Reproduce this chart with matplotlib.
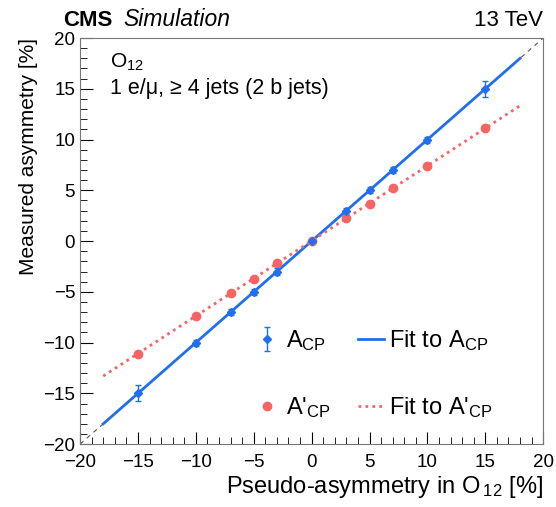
import numpy as np
import matplotlib.pyplot as plt
from matplotlib.ticker import MultipleLocator

plt.rcParams['font.family'] = ['Liberation Sans', 'DejaVu Sans']
plt.rcParams['mathtext.fontset'] = 'custom'
plt.rcParams['mathtext.rm'] = 'Liberation Sans'
plt.rcParams['mathtext.it'] = 'Liberation Sans:italic'

# injected pseudo-asymmetry
x_in = [-15, -10, -7, -5, -3, 0, 3, 5, 7, 10, 15]
# measured A_CP and A'_CP
a_cp = [-15.0, -10.0, -7.0, -5.0, -3.0, 0.0, 3.0, 5.0, 7.0, 10.0, 15.0]
a_cp_err = [0.8, 0.3, 0.3, 0.3, 0.3, 0.3, 0.3, 0.3, 0.3, 0.3, 0.8]
a_cp_prime = [-11.1, -7.4, -5.1, -3.7, -2.2, 0.0, 2.3, 3.7, 5.2, 7.4, 11.1]

blue = '#1f6ff0'
red = '#f86464'

fig = plt.figure(figsize=(5.56, 5.07), dpi=100)
ax = fig.add_axes([0.144, 0.124, 0.833, 0.801])

# diagonal
ax.plot([-20, 20], [-20, 20], ls=(0, (4, 4)), color='#555555', lw=0.8)

# fits
xf = np.array([-18, 18])
p1 = np.polyfit(x_in, a_cp, 1)
p2 = np.polyfit(x_in, a_cp_prime, 1)
fit1, = ax.plot(xf, np.polyval(p1, xf), color=blue, lw=2)
fit2, = ax.plot(xf, np.polyval(p2, xf), color=red, lw=2, ls=(0, (1, 1.5)))

pts1 = ax.errorbar(x_in, a_cp, yerr=a_cp_err, fmt='D', ms=4, color=blue, ecolor=blue,
                   elinewidth=1, capsize=2)
pts2, = ax.plot(x_in, a_cp_prime, 'o', ms=6, color=red, ls='none')

ax.set_xlim(-20, 20)
ax.set_ylim(-20, 20)
ax.xaxis.set_major_locator(MultipleLocator(5))
ax.xaxis.set_minor_locator(MultipleLocator(1))
ax.yaxis.set_major_locator(MultipleLocator(5))
ax.yaxis.set_minor_locator(MultipleLocator(1))
ax.tick_params(which='both', direction='in', labelsize=13.5, top=False, right=False)
ax.tick_params(which='major', length=9)
ax.tick_params(which='minor', length=5)
ax.tick_params(axis='x', pad=7)
for s in ax.spines.values():
    s.set_color('#777777')

ax.set_xlabel('Pseudo-asymmetry in O$\\,_{12}$ [%]', fontsize=17, loc='right', labelpad=2)
ax.set_ylabel('Measured asymmetry [%]', fontsize=15, loc='top')

fig.text(0.113, 0.948, 'CMS', fontsize=16, fontweight='bold')
fig.text(0.222, 0.948, 'Simulation', fontsize=16.5, style='italic')
fig.text(0.977, 0.948, '13 TeV', fontsize=16, ha='right')

ax.text(0.065, 0.94, 'O$_{12}$', transform=ax.transAxes, fontsize=15, va='center')
ax.text(0.065, 0.875, '1 e/\u03bc, \u2265 4 jets (2 b jets)', transform=ax.transAxes, fontsize=15.5, va='center')

ax.legend([pts1, pts2, fit1, fit2],
          ['A$_{\\rm CP}$', "A'$_{\\rm CP}$", 'Fit to A$_{\\rm CP}$', "Fit to A'$_{\\rm CP}$"],
          ncol=2, loc='upper left', bbox_to_anchor=(0.35, 0.315), frameon=False, borderpad=0,
          fontsize=17, labelspacing=1.8, columnspacing=1.15, handlelength=1.1, handletextpad=0.25)

fig.savefig('out.png', dpi=100)
